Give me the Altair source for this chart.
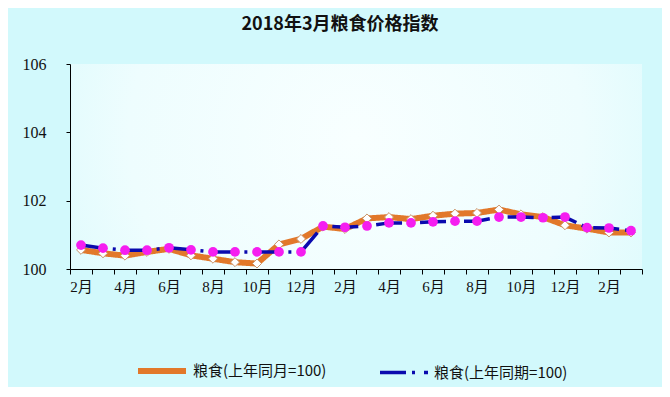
import altair as alt
import pandas as pd

months = ["2016-02", "2016-03", "2016-04", "2016-05", "2016-06", "2016-07",
          "2016-08", "2016-09", "2016-10", "2016-11", "2016-12", "2017-01",
          "2017-02", "2017-03", "2017-04", "2017-05", "2017-06", "2017-07",
          "2017-08", "2017-09", "2017-10", "2017-11", "2017-12", "2018-01",
          "2018-02", "2018-03"]

series_names = ["粮食(上年同月=100)", "粮食(上年同期=100)"]

same_month = [100.56, 100.46, 100.39, 100.50, 100.59, 100.40, 100.30, 100.20,
              100.16, 100.72, 100.88, 101.24, 101.17, 101.48, 101.52, 101.46,
              101.56, 101.62, 101.64, 101.74, 101.60, 101.52, 101.28, 101.18,
              101.07, 101.07]

same_period = [100.70, 100.61, 100.55, 100.55, 100.62, 100.56, 100.50, 100.50,
               100.50, 100.50, 100.50, 101.26, 101.22, 101.26, 101.35, 101.35,
               101.38, 101.40, 101.40, 101.52, 101.52, 101.50, 101.52, 101.21,
               101.20, 101.12]

rows = []
for m, v in zip(months, same_month):
    rows.append({"month": m, "series": series_names[0], "value": v})
for m, v in zip(months, same_period):
    rows.append({"month": m, "series": series_names[1], "value": v})
df = pd.DataFrame(rows)

ORANGE = "#E2782A"
BLUE = "#0A0AAE"
MAGENTA = "#F51EF0"
BG = "#d2f9fc"
CJK = "Noto Sans CJK SC"
SERIF = "Liberation Serif, Noto Sans CJK SC"

label_expr = ("(toNumber(substring(datum.value,5,7)) % 2 == 0) ? "
              "toNumber(substring(datum.value,5,7)) + '月' : ''")

x_enc = alt.X(
    "month:N",
    sort=months,
    scale=alt.Scale(type="band", paddingInner=0, paddingOuter=0, domain=months),
    axis=alt.Axis(title=None, labelAngle=0, labelExpr=label_expr, tickBand="extent",
                  tickSize=5, tickColor="black", domainColor="black",
                  labelFont=SERIF, labelFontSize=15, labelColor="#111",
                  labelPadding=5, grid=False),
)
y_enc = alt.Y(
    "value:Q",
    scale=alt.Scale(domain=[100, 106], nice=False, zero=False),
    axis=alt.Axis(title=None, values=[100, 102, 104, 106], grid=False,
                  tickSize=4, tickColor="black", domainColor="black",
                  labelFont=SERIF, labelFontSize=16, labelColor="#111",
                  labelPadding=20),
)

legend = alt.Legend(orient="none", legendX=65, legendY=280, direction="horizontal",
                    title=None, symbolType="stroke", symbolSize=2304,
                    labelFont=CJK, labelFontSize=15, labelColor="#111",
                    labelOffset=4, columnPadding=46)

lines = alt.Chart(df).mark_line().encode(
    x=x_enc,
    y=y_enc,
    color=alt.Color("series:N", scale=alt.Scale(domain=series_names, range=[ORANGE, BLUE]),
                    legend=legend),
    strokeWidth=alt.StrokeWidth("series:N", scale=alt.Scale(domain=series_names, range=[6, 3.5]),
                                legend=legend),
    strokeDash=alt.StrokeDash("series:N",
                              scale=alt.Scale(domain=series_names, range=[[1, 0], [26, 6, 3, 9]]),
                              legend=legend),
)

orange_line = lines.transform_filter(alt.datum.series == series_names[0])
blue_line = lines.transform_filter(alt.datum.series == series_names[1])

diamonds = alt.Chart(df).transform_filter(alt.datum.series == series_names[0]).mark_point(
    shape="diamond", filled=True, fill="white", stroke="#C8946A", strokeWidth=1,
    size=80, opacity=1
).encode(x=x_enc, y=y_enc)

circles = alt.Chart(df).transform_filter(alt.datum.series == series_names[1]).mark_point(
    shape="circle", filled=True, fill=MAGENTA, strokeWidth=0, size=95, opacity=1
).encode(x=x_enc, y=y_enc)

grad_expr = ("{gradient: 'radial', x1: 0.5, y1: 0.45, r1: 0, x2: 0.5, y2: 0.45, r2: 0.72, "
             "stops: [{offset: 0, color: '#f8ffff'}, {offset: 0.55, color: '#eefdfe'}, "
             "{offset: 1, color: '" + BG + "'}]}")

chart = alt.layer(orange_line, diamonds, blue_line, circles).properties(
    width=572,
    height=205,
    title=alt.TitleParams("2018年3月粮食价格指数", font=CJK, fontSize=18, fontWeight="bold",
                          color="#111", anchor="middle", offset=22, dx=-16),
    autosize=alt.AutoSizeParams(type="none"),
    padding={"left": 62, "top": 56, "right": 20, "bottom": 118},
    background=BG,
).configure_view(
    strokeWidth=0,
    fill={"expr": grad_expr},
)

chart.save("out.html", embed_options={"renderer": "svg", "actions": False})
